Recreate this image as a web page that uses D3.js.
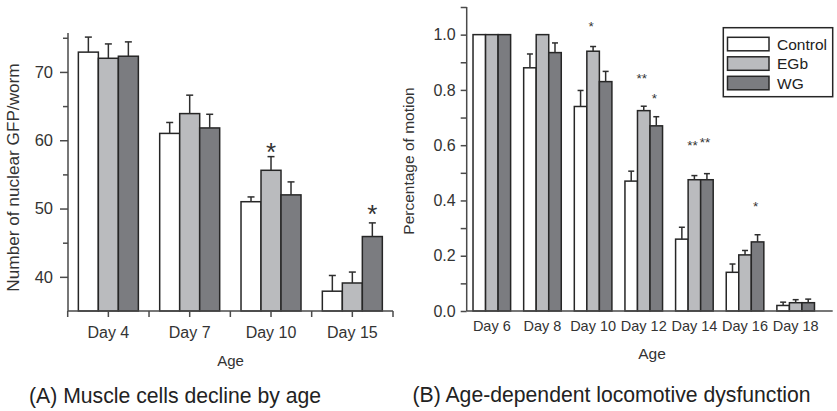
<!DOCTYPE html>
<html>
<head>
<meta charset="utf-8">
<script src="https://cdn.jsdelivr.net/npm/d3@7/dist/d3.min.js"></script>
<style>
  html, body { margin: 0; padding: 0; background: #fff; }
  svg { display: block; font-family: "Liberation Sans", Arial, Helvetica, sans-serif; }
</style>
</head>
<body>
<svg id="fig" width="837" height="411"></svg>
<script>
// ---- Panel A: nuclear GFP count per worm ----
const daysA = ["Day 4", "Day 7", "Day 10", "Day 15"];
const seriesNames = ["Control", "EGb", "WG"];
const controlA = [72.9, 61.0, 51.0, 37.9];
const controlAErr = [2.2, 1.6, 0.7, 2.3];
const egbA = [72.0, 63.9, 55.6, 39.1];
const egbAErr = [2.1, 2.7, 2.0, 1.6];
const wgA = [72.3, 61.8, 52.0, 45.9];
const wgAErr = [2.1, 2.0, 1.9, 2.0];
const ticksA = [40, 50, 60, 70];
const minorTicksA = [45, 55, 65, 75];
// significance marks: category, series, mark, level (data units)
const starsA = [
  ["Day 10", "EGb", "*", 59.1],
  ["Day 15", "WG", "*", 50.15]
];

// ---- Panel B: fraction of moving worms ----
const daysB = ["Day 6", "Day 8", "Day 10", "Day 12", "Day 14", "Day 16", "Day 18"];
const controlB = [1.0, 0.88, 0.74, 0.47, 0.26, 0.14, 0.02];
const controlBErr = [0, 0.05, 0.058, 0.036, 0.043, 0.03, 0.012];
const egbB = [1.0, 1.0, 0.94, 0.725, 0.475, 0.203, 0.03];
const egbBErr = [0, 0, 0.017, 0.016, 0.015, 0.016, 0.011];
const wgB = [1.0, 0.935, 0.83, 0.67, 0.475, 0.25, 0.03];
const wgBErr = [0, 0.035, 0.037, 0.033, 0.022, 0.026, 0.013];
const ticksB = [0, 0.2, 0.4, 0.6, 0.8, 1.0];
const minorTicksB = [0.1, 0.3, 0.5, 0.7, 0.9, 1.1];
const starsB = [
  ["Day 10", "EGb", "*", 1.043],
  ["Day 12", "EGb", "**", 0.853],
  ["Day 12", "WG", "*", 0.781],
  ["Day 14", "EGb", "**", 0.611],
  ["Day 14", "WG", "**", 0.622],
  ["Day 16", "WG", "*", 0.39]
];

const fills = { "Control": "#ffffff", "EGb": "#babbbe", "WG": "#7b7c80" };
const barStroke = "#262626";
const axisColor = "#4a4a4a";

const svg = d3.select("#fig");

function buildRows(days, vals, errs) {
  return days.map((d, i) => ({
    day: d,
    bars: seriesNames.map((s, j) => ({ series: s, value: vals[j][i], err: errs[j][i] }))
  }));
}

function drawPanel(cfg) {
  const g = svg.append("g");
  const x = d3.scaleBand().domain(cfg.days).range(cfg.xBandRange).padding(0);
  const xs = d3.scaleBand().domain(seriesNames)
    .range([(x.bandwidth() - cfg.groupWidth) / 2, (x.bandwidth() + cfg.groupWidth) / 2]);
  const y = d3.scaleLinear().domain(cfg.yDomain).range([cfg.bottom, cfg.top]);
  const rows = buildRows(cfg.days, cfg.vals, cfg.errs);

  // bars
  const grp = g.selectAll("g.grp").data(rows).join("g")
    .attr("transform", d => `translate(${x(d.day)},0)`);
  grp.selectAll("rect").data(d => d.bars).join("rect")
    .attr("x", d => xs(d.series))
    .attr("width", xs.bandwidth())
    .attr("y", d => y(d.value))
    .attr("height", d => y(cfg.yDomain[0]) - y(d.value))
    .attr("fill", d => fills[d.series])
    .attr("stroke", barStroke)
    .attr("stroke-width", 1.5);

  // upper error bars
  const eb = grp.selectAll("g.err").data(d => d.bars.filter(b => b.err > 0)).join("g")
    .attr("stroke", "#2e2e2e").attr("stroke-width", 1.5);
  eb.append("line")
    .attr("x1", d => xs(d.series) + xs.bandwidth() / 2)
    .attr("x2", d => xs(d.series) + xs.bandwidth() / 2)
    .attr("y1", d => y(d.value))
    .attr("y2", d => y(d.value + d.err));
  eb.append("line")
    .attr("x1", d => xs(d.series) + xs.bandwidth() / 2 - cfg.cap / 2)
    .attr("x2", d => xs(d.series) + xs.bandwidth() / 2 + cfg.cap / 2)
    .attr("y1", d => y(d.value + d.err))
    .attr("y2", d => y(d.value + d.err));

  // significance marks
  g.selectAll("text.star").data(cfg.stars).join("text")
    .attr("x", d => x(d[0]) + xs(d[1]) + xs.bandwidth() / 2 + cfg.starDx)
    .attr("y", d => y(d[3]) + cfg.starSize * 0.58)
    .attr("text-anchor", "middle")
    .attr("font-size", cfg.starSize)
    .attr("fill", "#333")
    .text(d => d[2]);

  // y axis
  const yAxis = d3.axisLeft(y).tickValues(cfg.ticks).tickFormat(cfg.fmt)
    .tickSize(cfg.tickLen).tickPadding(cfg.tickPad);
  const ya = g.append("g").attr("transform", `translate(${cfg.xAxisStart},0)`).call(yAxis);
  ya.select(".domain").remove();
  ya.selectAll(".tick line").attr("stroke", axisColor).attr("stroke-width", 1.5);
  ya.selectAll(".tick text").attr("font-size", cfg.tickFont).attr("fill", "#333")
    .attr("font-family", "Liberation Sans, Arial, sans-serif");
  const yMinor = d3.axisLeft(y).tickValues(cfg.minorTicks).tickFormat("").tickSize(cfg.minorLen);
  const ym = g.append("g").attr("transform", `translate(${cfg.xAxisStart},0)`).call(yMinor);
  ym.select(".domain").remove();
  ym.selectAll(".tick line").attr("stroke", axisColor).attr("stroke-width", 1.5);
  g.append("line")
    .attr("x1", cfg.xAxisStart).attr("x2", cfg.xAxisStart)
    .attr("y1", cfg.axisTop).attr("y2", cfg.bottom)
    .attr("stroke", axisColor).attr("stroke-width", 1.5);

  // x axis
  g.append("line")
    .attr("x1", cfg.xAxisStart).attr("x2", cfg.xAxisEnd)
    .attr("y1", cfg.bottom).attr("y2", cfg.bottom)
    .attr("stroke", axisColor).attr("stroke-width", 1.5);
  if (cfg.xTicks) {
    const tickXs = [];
    cfg.days.forEach(d => { tickXs.push(x(d)); tickXs.push(x(d) + x.bandwidth() / 2); });
    tickXs.push(x(cfg.days[cfg.days.length - 1]) + x.bandwidth());
    g.selectAll("line.xt").data(tickXs).join("line")
      .attr("x1", d => d).attr("x2", d => d)
      .attr("y1", cfg.bottom).attr("y2", cfg.bottom + 6)
      .attr("stroke", axisColor).attr("stroke-width", 1.5);
  }
  g.selectAll("text.day").data(cfg.days).join("text")
    .attr("x", d => x(d) + x.bandwidth() / 2)
    .attr("y", cfg.dayBaseline)
    .attr("text-anchor", "middle")
    .attr("font-size", cfg.dayFont)
    .attr("fill", "#333")
    .text(d => d);

  // axis titles
  g.append("text")
    .attr("x", cfg.ageX).attr("y", cfg.ageBaseline)
    .attr("text-anchor", "middle").attr("font-size", cfg.ageFont).attr("fill", "#333")
    .text("Age");
  g.append("text")
    .attr("transform", `translate(${cfg.yLabelX},${cfg.yLabelY}) rotate(-90)`)
    .attr("text-anchor", "middle").attr("font-size", cfg.yLabelFont).attr("fill", "#333")
    .text(cfg.yLabel);

  // caption
  g.append("text")
    .attr("x", cfg.captionX).attr("y", cfg.captionY)
    .attr("font-size", 21.2).attr("fill", "#222")
    .text(cfg.caption);
  return { x, xs, y };
}

drawPanel({
  days: daysA,
  vals: [controlA, egbA, wgA],
  errs: [controlAErr, egbAErr, wgAErr],
  stars: starsA,
  xBandRange: [67.7, 393],
  xAxisStart: 68, xAxisEnd: 393,
  groupWidth: 60, cap: 7,
  yDomain: [35, 75.7], top: 33, bottom: 311, axisTop: 33,
  ticks: ticksA, minorTicks: minorTicksA, fmt: d3.format("d"),
  tickLen: 8, minorLen: 5, tickPad: 7, tickFont: 16.5,
  xTicks: true, dayBaseline: 337.5, dayFont: 16,
  ageX: 230.5, ageBaseline: 366, ageFont: 15,
  yLabel: "Number of nuclear GFP/worm", yLabelX: 19, yLabelY: 177.5, yLabelFont: 17.2,
  starSize: 26, starDx: 0,
  caption: "(A) Muscle cells decline by age", captionX: 29, captionY: 403
});

drawPanel({
  days: daysB,
  vals: [controlB, egbB, wgB],
  errs: [controlBErr, egbBErr, wgBErr],
  stars: starsB,
  xBandRange: [466.5, 821],
  xAxisStart: 466.7, xAxisEnd: 832.7,
  groupWidth: 37.6, cap: 6,
  yDomain: [0, 1.1], top: 7, bottom: 311, axisTop: 7,
  ticks: ticksB, minorTicks: minorTicksB, fmt: d3.format(".1f"),
  tickLen: 6, minorLen: 6, tickPad: 5, tickFont: 16,
  xTicks: false, dayBaseline: 331, dayFont: 14.5,
  ageX: 652, ageBaseline: 358.5, ageFont: 15.5,
  yLabel: "Percentage of motion", yLabelX: 413.5, yLabelY: 161, yLabelFont: 15.5,
  starSize: 13.5, starDx: -2,
  caption: "(B) Age-dependent locomotive dysfunction", captionX: 412.5, captionY: 401.5
});

// legend
const legend = svg.append("g");
legend.append("rect")
  .attr("x", 723.3).attr("y", 27.7).attr("width", 109.4).attr("height", 69)
  .attr("fill", "#fff").attr("stroke", "#262626").attr("stroke-width", 1.5);
const li = legend.selectAll("g.item").data(seriesNames).join("g")
  .attr("transform", (d, i) => `translate(727.5,${37.3 + i * 19.5})`);
li.append("rect")
  .attr("width", 41.5).attr("height", 13.5)
  .attr("fill", d => fills[d]).attr("stroke", barStroke).attr("stroke-width", 1.5);
li.append("text")
  .attr("x", 49.5).attr("y", 12.3)
  .attr("font-size", 15.5).attr("fill", "#222")
  .text(d => d);
</script>
</body>
</html>
